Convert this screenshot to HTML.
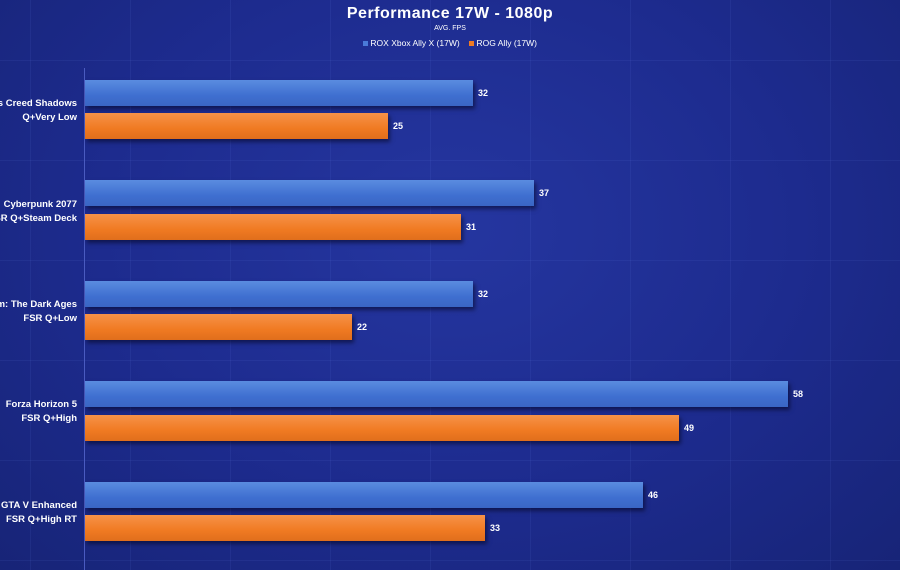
<!DOCTYPE html>
<html><head><style>
body{margin:0;width:900px;height:570px;overflow:hidden;background:radial-gradient(ellipse at 50% 40%,#2536a0 0%,#1d2b8e 55%,#172477 100%);font-family:"Liberation Sans",sans-serif;color:#fff;position:relative}
.grid{position:absolute;inset:0;background-image:linear-gradient(rgba(120,150,255,.08) 1px,transparent 1px),linear-gradient(90deg,rgba(120,150,255,.08) 1px,transparent 1px);background-size:100px 100px;background-position:30px 60px}
.t{position:absolute;left:0;width:900px;text-align:center}
.axis{position:absolute;left:84px;top:68px;width:1px;height:502px;background:#4a5bc0}
.bar{position:absolute;left:85px;height:26px;box-shadow:2px 3px 4px rgba(0,0,20,.5)}
.b{background:linear-gradient(#5a8ce0,#3f6fd0 60%,#3a66c4)}
.o{background:linear-gradient(#f69248,#f07a22 60%,#e06e1c)}
.v{position:absolute;font-size:9px;font-weight:bold}
.lab{position:absolute;right:823px;width:200px;text-align:right;font-size:9.5px;font-weight:bold;line-height:14px;white-space:nowrap}
</style></head><body>
<div class="grid"></div>
<div class="t" style="top:5px;font-size:16px;font-weight:bold;letter-spacing:.5px">Performance 17W - 1080p</div>
<div class="t" style="top:25px;font-size:7px">AVG. FPS</div>
<div class="t" style="top:38px;font-size:8.5px"><span style="display:inline-block;width:5px;height:5px;background:#4a7ad8"></span> ROX Xbox Ally X (17W) &nbsp;&nbsp; <span style="display:inline-block;width:5px;height:5px;background:#f07a22"></span> ROG Ally (17W)</div>
<div class="axis"></div>

<div class="bar b" style="top:80px;width:388px"></div><div class="v" style="top:88px;left:478px">32</div>
<div class="bar o" style="top:113px;width:303px"></div><div class="v" style="top:121px;left:393px">25</div>
<div class="lab" style="top:97px">'s Creed Shadows<br>Q+Very Low</div>

<div class="bar b" style="top:180px;width:449px"></div><div class="v" style="top:188px;left:539px">37</div>
<div class="bar o" style="top:214px;width:376px"></div><div class="v" style="top:222px;left:466px">31</div>
<div class="lab" style="top:198px">Cyberpunk 2077<br>SR Q+Steam Deck</div>

<div class="bar b" style="top:281px;width:388px"></div><div class="v" style="top:289px;left:478px">32</div>
<div class="bar o" style="top:314px;width:267px"></div><div class="v" style="top:322px;left:357px">22</div>
<div class="lab" style="top:298px">m: The Dark Ages<br>FSR Q+Low</div>

<div class="bar b" style="top:381px;width:703px"></div><div class="v" style="top:389px;left:793px">58</div>
<div class="bar o" style="top:415px;width:594px"></div><div class="v" style="top:423px;left:684px">49</div>
<div class="lab" style="top:398px">Forza Horizon 5<br>FSR Q+High</div>

<div class="bar b" style="top:482px;width:558px"></div><div class="v" style="top:490px;left:648px">46</div>
<div class="bar o" style="top:515px;width:400px"></div><div class="v" style="top:523px;left:490px">33</div>
<div class="lab" style="top:499px">GTA V Enhanced<br>FSR Q+High RT</div>
</body></html>
